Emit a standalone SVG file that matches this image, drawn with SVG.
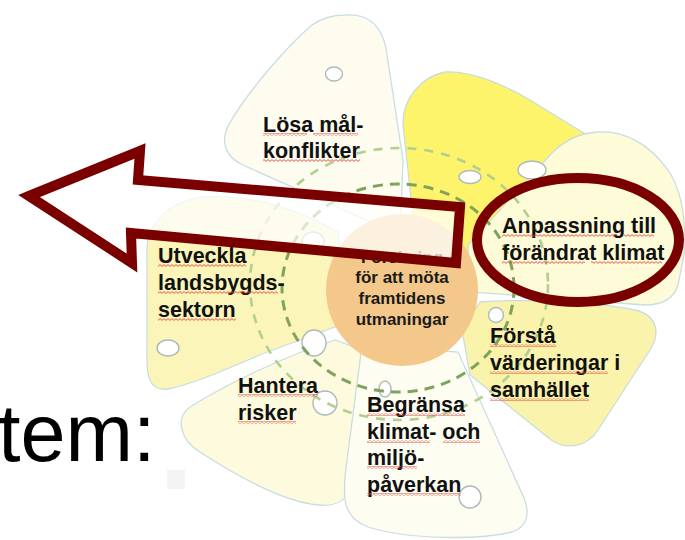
<svg xmlns="http://www.w3.org/2000/svg" width="685" height="540" viewBox="0 0 685 540">
<defs>
<style>
.petal{stroke:#C9DDE1;stroke-width:1.3}
.hole{fill:#FFFFFF;stroke:#AEB9BB;stroke-width:1.4}
.lbl{font-family:"Liberation Sans",Arial,sans-serif;font-weight:bold;font-size:21.5px;fill:#111}
.hub{font-family:"Liberation Sans",Arial,sans-serif;font-weight:bold;font-size:17px;fill:#1a1a1a;text-anchor:middle}
.sq{fill:url(#sq)}
.ringd{fill:none;stroke:#7FA35E;stroke-width:3;stroke-dasharray:10 7}
.ringl{fill:none;stroke:#AFD08F;stroke-width:2.6;stroke-dasharray:9 8}
.red{fill:none;stroke:#7A0000;stroke-width:10}
</style>
<pattern id="sq" width="4" height="3" patternUnits="userSpaceOnUse"><path d="M0,0.6 L2,2.4 L4,0.6" fill="none" stroke="#E5443E" stroke-width="0.9"/></pattern>
</defs>
<rect width="685" height="540" fill="#FFFFFF"/>
<rect x="167" y="470" width="18" height="19" fill="#F4F4F4"/>
<text x="-2" y="461" font-family="Liberation Sans, Arial, sans-serif" font-size="81" fill="#000">tem:</text>

<g id="petal-yellow">
<path class="petal" fill="#FEF46C" d="M445,72 C470,70 505,85 530,100 L595,140 L625,185 L470,255 L415,235 L403,125 C402,100 420,77 445,72 Z"/>
<ellipse class="hole" cx="470" cy="177" rx="11" ry="6.5"/>
</g>
<g id="petal-losa">
<path class="petal" fill="#FDFCEF" d="M345,15 C367,13 381,25 386,48 L403,160 L400,235 L245,166 C226,158 220,143 228,126 C245,95 285,48 312,25 C322,18 333,15 345,15 Z"/>
<ellipse class="hole" cx="334" cy="74" rx="8.5" ry="7"/>
</g>
<g id="petal-anpassning">
<path class="petal" fill="#FEFBD8" d="M598,132 C625,130 650,145 668,170 C683,192 686,225 684,255 L678,285 C674,298 664,305 645,305 L470,292 L468,245 L550,155 C563,141 580,133 598,132 Z"/>
<ellipse class="hole" cx="532" cy="170" rx="14" ry="9"/>
</g>
<g id="petal-forsta">
<path class="petal" fill="#FAF3AB" d="M480,302 C530,298 600,303 635,310 C657,315 661,333 650,350 L598,430 C588,446 568,451 551,440 L470,375 L462,330 Z"/>
<ellipse class="hole" cx="496" cy="315" rx="7.5" ry="7.5"/>
</g>
<g id="petal-hantera">
<path class="petal" fill="#FDFADD" d="M190,407 C225,385 280,358 335,340 L362,350 L352,482 C349,500 338,507 318,505 C285,502 240,478 200,452 C180,440 175,418 190,407 Z"/>
<ellipse class="hole" cx="325" cy="403" rx="12" ry="12"/>
</g>
<g id="petal-begransa">
<path class="petal" fill="#FEFDF1" d="M362,345 L346,468 C342,500 344,518 368,527 C410,540 480,540 512,532 C528,527 530,512 524,498 L458,352 Z"/>
<ellipse class="hole" cx="385" cy="389" rx="6" ry="8"/>
<ellipse class="hole" cx="470" cy="497" rx="11" ry="11"/>
</g>
<g id="petal-utveckla">
<path class="petal" fill="#FBF5B9" d="M205,197 C250,194 295,208 338,232 L348,322 L262,354 C225,370 190,385 168,389 C152,391 147,380 147,362 L147,250 C147,222 172,200 205,197 Z"/>
<ellipse class="hole" cx="168" cy="348" rx="11" ry="8"/>
<ellipse class="hole" cx="313" cy="241" rx="11" ry="9"/>
<ellipse class="hole" cx="314" cy="343" rx="12" ry="13"/>
</g>

<g id="rings">
<ellipse class="ringl" cx="399" cy="284" rx="149" ry="136"/>
<ellipse class="ringd" cx="398" cy="288" rx="116" ry="104"/>
</g>

<g id="hub">
<circle cx="402" cy="290" r="76" fill="#F4C88B"/>
<text class="hub" x="402" y="263">Forskning</text>
<text class="hub" x="402" y="283">för att möta</text>
<text class="hub" x="402" y="304">framtidens</text>
<text class="hub" x="402" y="325">utmaningar</text>
</g>

<g id="label-losa">
<text class="lbl" x="263" y="132">Lösa mål-</text>
<text class="lbl" x="263" y="158">konflikter</text>
<rect class="sq" x="263" y="133" width="44" height="3"/><rect class="sq" x="313" y="133" width="45" height="3"/>
<rect class="sq" x="263" y="159" width="97" height="3"/>
</g>
<g id="label-anpassning">
<text class="lbl" x="502" y="233">Anpassning till</text>
<text class="lbl" x="502" y="260">förändrat klimat</text>
<rect class="sq" x="502" y="234" width="115" height="3"/><rect class="sq" x="624" y="234" width="30" height="3"/>
<rect class="sq" x="502" y="261" width="83" height="3"/><rect class="sq" x="591" y="261" width="71" height="3"/>
</g>
<g id="label-forsta">
<text class="lbl" x="490" y="343">Förstå</text>
<text class="lbl" x="490" y="370">värderingar i</text>
<text class="lbl" x="490" y="397">samhället</text>
<rect class="sq" x="490" y="344" width="66" height="3"/>
<rect class="sq" x="490" y="371" width="118" height="3"/>
<rect class="sq" x="490" y="398" width="99" height="3"/>
</g>
<g id="label-utveckla">
<text class="lbl" x="158" y="263">Utveckla</text>
<text class="lbl" x="158" y="290">landsbygds-</text>
<text class="lbl" x="158" y="317">sektorn</text>
<rect class="sq" x="158" y="264" width="88" height="3"/>
<rect class="sq" x="158" y="291" width="120" height="3"/>
<rect class="sq" x="158" y="318" width="78" height="3"/>
</g>
<g id="label-hantera">
<text class="lbl" x="238" y="393">Hantera</text>
<text class="lbl" x="238" y="420">risker</text>
<rect class="sq" x="238" y="394" width="80" height="3"/>
<rect class="sq" x="238" y="421" width="58" height="3"/>
</g>
<g id="label-begransa">
<text class="lbl" x="367" y="412">Begränsa</text>
<text class="lbl" x="367" y="439">klimat- och</text>
<text class="lbl" x="367" y="465">miljö-</text>
<text class="lbl" x="367" y="492">påverkan</text>
<rect class="sq" x="367" y="413" width="98" height="3"/>
<rect class="sq" x="367" y="440" width="63" height="3"/><rect class="sq" x="443" y="440" width="37" height="3"/>
<rect class="sq" x="367" y="466" width="50" height="3"/>
<rect class="sq" x="367" y="493" width="94" height="3"/>
</g>

<g id="connectors">
<path class="red" fill="#FFFFFF" fill-opacity="0.72" style="fill:#FFFFFF" stroke-linejoin="miter" stroke-miterlimit="10" d="M29,196 L140,151 L138,180 L460,207 L456,263 L131,233 L132,263 Z"/>
</g>
<g id="highlight">
<ellipse class="red" cx="578" cy="240" rx="101" ry="62" stroke-width="9"/>
</g>
</svg>
